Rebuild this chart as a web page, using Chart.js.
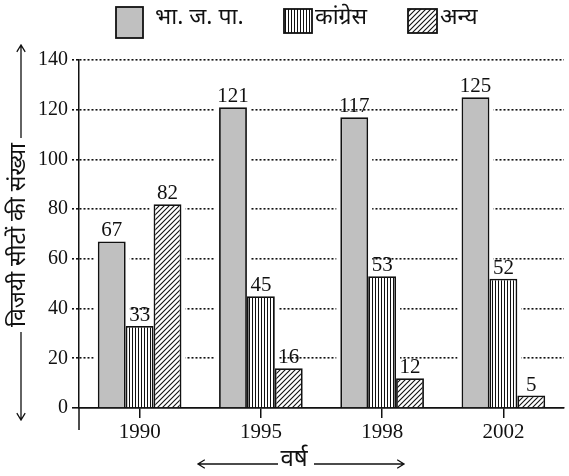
<!DOCTYPE html>
<html>
<head>
<meta charset="utf-8">
<script src="https://cdn.jsdelivr.net/npm/chart.js@4"></script>
<style>
  html, body { margin: 0; padding: 0; background: #fff; }
  #wrap { width: 569px; height: 476px; }
</style>
</head>
<body>
<div id="wrap"><canvas id="seatsChart" width="569" height="476"></canvas></div>
<script>
// seats won by party in each election year
const years = ['1990', '1995', '1998', '2002'];
const bjpSeats = [67, 121, 117, 125];
const congressSeats = [33, 45, 53, 52];
const otherSeats = [82, 16, 12, 5];
const partyNames = ['भा. ज. पा.', 'कांग्रेस', 'अन्य'];
const yTicks = [0, 20, 40, 60, 80, 100, 120, 140];

const hindiFont = "'Noto Sans Devanagari', 'Noto Sans', 'Lohit Devanagari', sans-serif";
const numFont = "'Liberation Serif', 'Times New Roman', serif";

// --- fill patterns ---
function makeStripes() {
  const c = document.createElement('canvas');
  c.width = 3; c.height = 3;
  const g = c.getContext('2d');
  g.fillStyle = '#fff'; g.fillRect(0, 0, 3, 3);
  g.fillStyle = '#111'; g.fillRect(0, 0, 1, 3);
  return g.createPattern(c, 'repeat');
}

function makeHatch() {
  const s = 5;
  const c = document.createElement('canvas');
  c.width = s; c.height = s;
  const g = c.getContext('2d');
  g.fillStyle = '#fff'; g.fillRect(0, 0, s, s);
  g.strokeStyle = '#111';
  g.lineWidth = 1.1;
  g.beginPath();
  g.moveTo(0, s); g.lineTo(s, 0);
  g.moveTo(-1, 1); g.lineTo(1, -1);
  g.moveTo(s - 1, s + 1); g.lineTo(s + 1, s - 1);
  g.stroke();
  return g.createPattern(c, 'repeat');
}

const fills = ['#c0c0c0', makeStripes(), makeHatch()];

function arrowLine(ctx, x1, y1, x2, y2) {
  const ang = Math.atan2(y2 - y1, x2 - x1);
  ctx.beginPath();
  ctx.moveTo(x1, y1);
  ctx.lineTo(x2, y2);
  ctx.moveTo(x2 - 8 * Math.cos(ang - 0.55), y2 - 8 * Math.sin(ang - 0.55));
  ctx.lineTo(x2, y2);
  ctx.lineTo(x2 - 8 * Math.cos(ang + 0.55), y2 - 8 * Math.sin(ang + 0.55));
  ctx.stroke();
}

// legend, axis titles with arrows, value labels
const decorPlugin = {
  id: 'decor',
  beforeDatasetsDraw(chart) {
    // white gap around each bar so the dotted grid stops short of it
    const ctx = chart.ctx;
    const bottom = chart.chartArea.bottom;
    ctx.save();
    ctx.fillStyle = '#fff';
    chart.data.datasets.forEach((ds, di) => {
      chart.getDatasetMeta(di).data.forEach(bar => {
        const half = bar.width / 2;
        ctx.fillRect(bar.x - half - 4, bar.y - 3, bar.width + 8, bottom - bar.y + 2);
      });
    });
    ctx.restore();
  },
  afterDraw(chart) {
    const ctx = chart.ctx;
    const area = chart.chartArea;
    ctx.save();

    // legend: [x, y, w, h] of each swatch
    const boxes = [[116, 7, 27, 31], [284, 9, 28, 24], [408, 9, 29, 24]];
    const textX = [155, 315, 440];
    ctx.font = '23px ' + hindiFont;
    ctx.textBaseline = 'middle';
    ctx.textAlign = 'left';
    boxes.forEach((b, i) => {
      ctx.fillStyle = fills[i];
      ctx.fillRect(b[0], b[1], b[2], b[3]);
      ctx.lineWidth = 1.8;
      ctx.strokeStyle = '#111';
      ctx.strokeRect(b[0], b[1], b[2], b[3]);
      ctx.fillStyle = '#111';
      ctx.fillText(partyNames[i], textX[i], 20);
    });

    // y axis extension below zero
    ctx.lineWidth = 1.5;
    ctx.strokeStyle = '#111';
    ctx.beginPath();
    ctx.moveTo(area.left, area.bottom);
    ctx.lineTo(area.left, area.bottom + 22);
    ctx.stroke();

    // y title
    const yTitle = 'विजयी सीटों की संख्या';
    const cy = 235, cx = 21;
    ctx.font = '23px ' + hindiFont;
    const tw = ctx.measureText(yTitle).width;
    ctx.save();
    ctx.translate(cx - 1, cy);
    ctx.rotate(-Math.PI / 2);
    ctx.textAlign = 'center';
    ctx.fillStyle = '#111';
    ctx.fillText(yTitle, 0, 1);
    ctx.restore();
    ctx.lineWidth = 1.3;
    arrowLine(ctx, cx, cy - tw / 2 - 5, cx, 45);
    arrowLine(ctx, cx, cy + tw / 2 + 5, cx, 420);

    // x title
    ctx.font = '24px ' + hindiFont;
    ctx.textAlign = 'center';
    ctx.fillText('वर्ष', 294, 462);
    arrowLine(ctx, 278, 464, 198, 464);
    arrowLine(ctx, 314, 464, 404, 464);

    // value labels
    ctx.font = '21px ' + numFont;
    ctx.textBaseline = 'bottom';
    chart.data.datasets.forEach((ds, di) => {
      chart.getDatasetMeta(di).data.forEach((bar, i) => {
        ctx.fillText(String(ds.data[i]), bar.x, bar.y);
      });
    });
    ctx.restore();
  }
};

const ctx = document.getElementById('seatsChart');
new Chart(ctx, {
  type: 'bar',
  data: {
    labels: years,
    datasets: [bjpSeats, congressSeats, otherSeats].map((vals, i) => ({
      label: partyNames[i],
      data: vals,
      backgroundColor: fills[i],
      borderColor: '#111',
      borderWidth: 1.8,
      categoryPercentage: 0.69,
      barPercentage: 1.0
    }))
  },
  options: {
    responsive: false,
    animation: false,
    devicePixelRatio: 1,
    layout: { padding: { top: 60, right: 5, left: 0, bottom: 0 } },
    plugins: {
      legend: { display: false },
      tooltip: { enabled: false }
    },
    scales: {
      x: {
        grid: { display: true, drawOnChartArea: false, offset: false, tickLength: 10, color: '#111', lineWidth: 1.5 },
        border: { color: '#111', width: 1.6 },
        ticks: { color: '#111', font: { family: numFont, size: 21 }, padding: 2 },
        afterFit(scale) { scale.height = 68; }
      },
      y: {
        min: 0,
        max: 140,
        afterBuildTicks(scale) { scale.ticks = yTicks.map(v => ({ value: v })); },
        grid: {
          color: '#111',
          lineWidth: 1.6,
          tickLength: 7,
          tickColor: '#111',
          tickBorderDash: ctx => ctx.tick && ctx.tick.value === 0 ? [] : [2, 2]
        },
        border: {
          color: '#111',
          width: 1.5,
          dash: ctx => ctx.tick && ctx.tick.value === 0 ? [] : [2, 2]
        },
        ticks: { color: '#111', font: { family: numFont, size: 20 }, padding: 4 },
        afterFit(scale) { scale.width = 79; }
      }
    }
  },
  plugins: [decorPlugin]
});
</script>
</body>
</html>
